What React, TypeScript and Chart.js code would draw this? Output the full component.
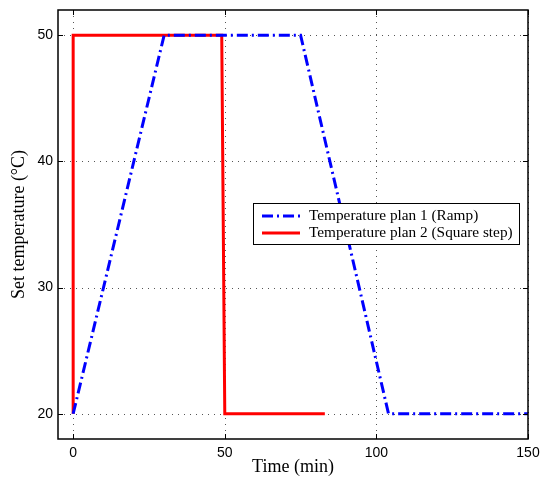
import React, { useEffect, useRef } from 'react';
import { Chart, registerables } from 'chart.js';

Chart.register(...registerables);

const rampTime = [0, 30, 75, 104, 150];
const rampTemp = [20, 50, 50, 20, 20];
const stepTime = [0, 0, 49, 50, 83];
const stepTemp = [20, 50, 50, 20, 20];
const xTicks = [0, 50, 100, 150];
const yTicks = [20, 30, 40, 50];
const seriesLabels = ['Temperature plan 1 (Ramp)', 'Temperature plan 2 (Square step)'];
const xTitle = 'Time (min)';
const yTitle = 'Set temperature (°C)';

const BLUE = '#0000ff';
const RED = '#ff0000';
const BLUE_DASH = [11, 4, 2, 4];

const framePlugin = {
  id: 'matlabFrame',
  beforeDatasetsDraw(chart: any) {
    const { ctx, chartArea: a, scales } = chart;
    const x = scales.x;
    const y = scales.y;
    ctx.save();
    ctx.lineWidth = 1;
    ctx.strokeStyle = '#555';
    ctx.setLineDash([1, 5]);
    for (const v of xTicks) {
      const px = Math.round(x.getPixelForValue(v)) + 0.5;
      ctx.beginPath();
      ctx.moveTo(px, a.top);
      ctx.lineTo(px, a.bottom);
      ctx.stroke();
    }
    for (const v of yTicks) {
      const py = Math.round(y.getPixelForValue(v)) + 0.5;
      ctx.beginPath();
      ctx.moveTo(a.left, py);
      ctx.lineTo(a.right, py);
      ctx.stroke();
    }
    ctx.restore();
  },
  afterDatasetsDraw(chart: any) {
    const { ctx, chartArea: a, scales } = chart;
    const x = scales.x;
    const y = scales.y;
    ctx.save();
    ctx.setLineDash([]);
    ctx.strokeStyle = '#000';
    ctx.lineWidth = 1;
    const tl = 5;
    for (const v of xTicks) {
      const px = Math.round(x.getPixelForValue(v)) + 0.5;
      ctx.beginPath();
      ctx.moveTo(px, a.bottom);
      ctx.lineTo(px, a.bottom - tl);
      ctx.moveTo(px, a.top);
      ctx.lineTo(px, a.top + tl);
      ctx.stroke();
    }
    for (const v of yTicks) {
      const py = Math.round(y.getPixelForValue(v)) + 0.5;
      ctx.beginPath();
      ctx.moveTo(a.left, py);
      ctx.lineTo(a.left + tl, py);
      ctx.moveTo(a.right, py);
      ctx.lineTo(a.right - tl, py);
      ctx.stroke();
    }
    ctx.lineWidth = 1.5;
    ctx.strokeRect(a.left, a.top, a.right - a.left, a.bottom - a.top);

    // legend box (MATLAB style)
    const lx = 253.5;
    const ly = 203.5;
    const lw = 266;
    const lh = 41;
    ctx.fillStyle = '#fff';
    ctx.fillRect(lx, ly, lw, lh);
    ctx.lineWidth = 1;
    ctx.strokeStyle = '#000';
    ctx.strokeRect(lx, ly, lw, lh);
    const rows = [
      { color: BLUE, dash: BLUE_DASH, label: seriesLabels[0], cy: 216 },
      { color: RED, dash: [], label: seriesLabels[1], cy: 233 },
    ];
    ctx.font = '15.3px "Liberation Serif", "Times New Roman", serif';
    ctx.textBaseline = 'middle';
    ctx.textAlign = 'left';
    for (const r of rows) {
      ctx.beginPath();
      ctx.lineWidth = 3;
      ctx.strokeStyle = r.color;
      ctx.setLineDash(r.dash);
      ctx.moveTo(262, r.cy);
      ctx.lineTo(300, r.cy);
      ctx.stroke();
      ctx.setLineDash([]);
      ctx.fillStyle = '#000';
      ctx.fillText(r.label, 309, r.cy);
    }
    ctx.restore();
  },
};

export default function App() {
  const ref = useRef<HTMLCanvasElement | null>(null);
  useEffect(() => {
    if (!ref.current) return;
    const chart = new Chart(ref.current, {
      type: 'line',
      data: {
        datasets: [
          {
            label: seriesLabels[0],
            data: rampTime.map((t, i) => ({ x: t, y: rampTemp[i] })),
            borderColor: BLUE,
            borderWidth: 3,
            borderDash: BLUE_DASH,
            pointRadius: 0,
            tension: 0,
            fill: false,
          },
          {
            label: seriesLabels[1],
            data: stepTime.map((t, i) => ({ x: t, y: stepTemp[i] })),
            borderColor: RED,
            borderWidth: 3,
            pointRadius: 0,
            tension: 0,
            fill: false,
          },
        ],
      },
      options: {
        animation: false,
        responsive: true,
        maintainAspectRatio: false,
        layout: { padding: { top: 10, right: 14, left: 0, bottom: 0 } },
        plugins: { legend: { display: false }, tooltip: { enabled: false } },
        scales: {
          x: {
            type: 'linear',
            min: -5,
            max: 150,
            afterBuildTicks: (s: any) => {
              s.ticks = xTicks.map((v) => ({ value: v }));
            },
            afterFit: (s: any) => {
              s.height = 41;
              s.paddingLeft = 0;
              s.paddingRight = 0;
            },
            grid: { display: false, drawTicks: false },
            border: { display: false },
            ticks: {
              color: '#000',
              font: { family: '"Liberation Sans", Arial, sans-serif', size: 14 },
              padding: 6,
              maxRotation: 0,
            },
            title: {
              display: true,
              text: xTitle,
              color: '#000',
              font: { family: '"Liberation Serif", "Times New Roman", serif', size: 18 },
              padding: { top: 0, bottom: 2 },
            },
          },
          y: {
            type: 'linear',
            min: 18,
            max: 52,
            afterBuildTicks: (s: any) => {
              s.ticks = yTicks.map((v) => ({ value: v }));
            },
            afterFit: (s: any) => {
              s.width = 58;
              s.paddingTop = 0;
              s.paddingBottom = 0;
            },
            grid: { display: false, drawTicks: false },
            border: { display: false },
            ticks: {
              color: '#000',
              font: { family: '"Liberation Sans", Arial, sans-serif', size: 14 },
              padding: 5,
            },
            title: {
              display: true,
              text: yTitle,
              color: '#000',
              font: { family: '"Liberation Serif", "Times New Roman", serif', size: 18 },
              padding: { top: 8, bottom: 0 },
            },
          },
        },
      },
      plugins: [framePlugin],
    } as any);
    return () => chart.destroy();
  }, []);
  return (
    <div style={{ position: 'fixed', left: 0, top: 0, width: 542, height: 480, background: '#fff' }}>
      <canvas ref={ref} />
    </div>
  );
}
